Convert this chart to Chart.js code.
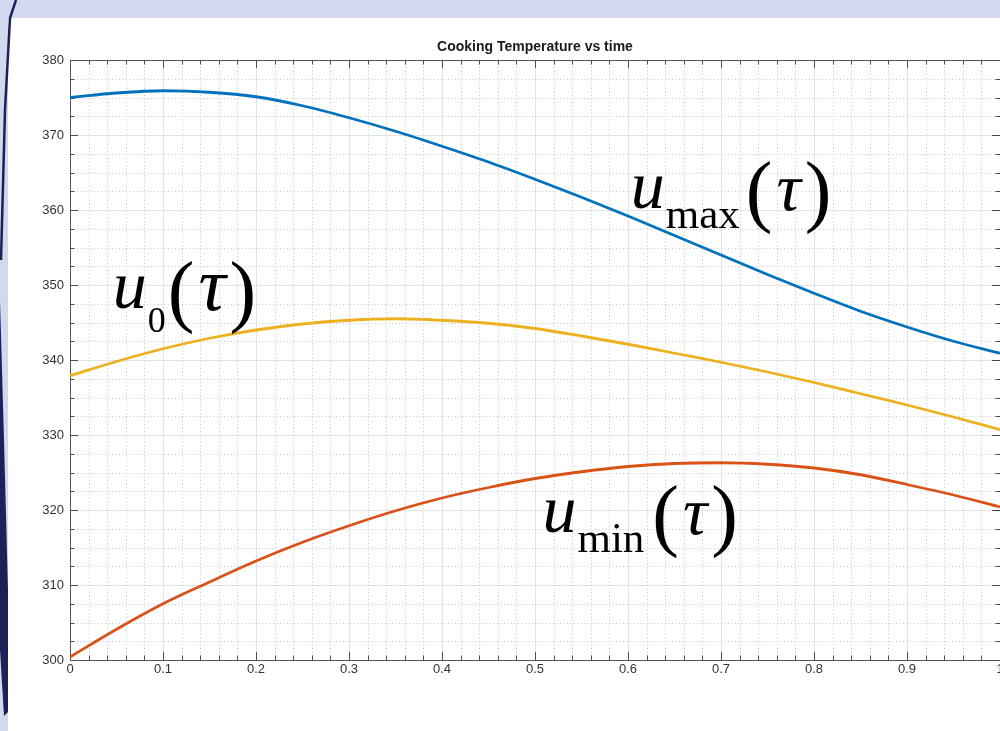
<!DOCTYPE html>
<html>
<head>
<meta charset="utf-8">
<title>Cooking Temperature vs time</title>
<script src="https://cdn.jsdelivr.net/npm/chart.js@4.4.0/dist/chart.umd.min.js"></script>
<style>
    html, body { margin: 0; padding: 0; width: 1000px; height: 731px; overflow: hidden; background: #d2d8ed; }
    #panel { position: absolute; left: 8px; top: 18px; width: 992px; height: 713px; background: #fff; }
    #wrap { position: absolute; left: 0; top: 0; width: 1040px; height: 731px; }
    #deco { position: absolute; left: 0; top: 0; }
</style>
</head>
<body>
<div id="panel"></div>
<div id="wrap"><canvas id="chartTemp"></canvas></div>
<svg id="deco" width="20" height="731">
    <path d="M16,0 L10,18 L5,110 L1,260" stroke="#1d2157" stroke-width="2.5" fill="none"/>
    <polygon points="0,300 4,440 8,590 8,712 4,716 0,650" fill="#1d2157"/>
</svg>
<script>
// time axis (tau) and the three temperature curves
const tau = [0, 0.05, 0.1, 0.15, 0.2, 0.25, 0.3, 0.35, 0.4, 0.45, 0.5,
             0.55, 0.6, 0.65, 0.7, 0.75, 0.8, 0.85, 0.9, 0.95, 1.0];
const uMax = [375.0, 375.6, 375.9, 375.7, 375.1, 373.9, 372.3, 370.5, 368.5, 366.4, 364.1,
              361.7, 359.2, 356.6, 354.0, 351.4, 348.9, 346.5, 344.4, 342.5, 340.9];
const uZero = [337.9, 339.8, 341.5, 342.9, 344.0, 344.8, 345.3, 345.5, 345.3, 344.9, 344.2,
               343.2, 342.1, 340.9, 339.7, 338.4, 337.0, 335.5, 334.0, 332.4, 330.7];
const uMin = [300.4, 304.1, 307.5, 310.4, 313.2, 315.7, 317.9, 319.9, 321.6, 323.0, 324.2,
              325.1, 325.8, 326.2, 326.3, 326.1, 325.6, 324.7, 323.4, 322.0, 320.4];

const chartTitle = 'Cooking Temperature vs time';
const xTicks = { min: 0, max: 1, step: 0.1, minor: 0.02 };
const yTicks = { min: 300, max: 380, step: 10, minor: 2.5 };

// where the big math labels sit (data coords of the "u" baseline start)
const mathLabels = [
    { sub: 'max', x: 0.603, y: 360.3, subSize: 43, subDrop: 20, gap: 6, tauSize: 68 },
    { sub: '0', x: 0.046, y: 346.9, subSize: 36, subDrop: 24, gap: 2, tauSize: 76 },
    { sub: 'min', x: 0.508, y: 317.1, subSize: 43, subDrop: 20, gap: 8, tauSize: 68 }
];

const toPoints = (vals) => tau.map((t, i) => ({ x: t, y: vals[i] }));

const SERIF = '"Liberation Serif", "Times New Roman", serif';
const SANS = '"Liberation Sans", Arial, Helvetica, sans-serif';

// minor dotted grid, box, inward ticks on all 4 sides, title over the plot
const boxPlugin = {
    id: 'boxPlugin',
    beforeDatasetsDraw(chart) {
        const { ctx, chartArea: a, scales } = chart;
        const xs = scales.x, ys = scales.y;
        ctx.save();
        ctx.lineWidth = 1;

        // minor dotted lines
        ctx.strokeStyle = '#c6c6c6';
        ctx.setLineDash([1, 2.5]);
        ctx.beginPath();
        let n = Math.round((xTicks.max - xTicks.min) / xTicks.minor);
        for (let i = 1; i < n; i++) {
            if (i % 5 === 0) continue;
            const px = Math.round(xs.getPixelForValue(xTicks.min + i * xTicks.minor)) + 0.5;
            ctx.moveTo(px, a.top);
            ctx.lineTo(px, a.bottom);
        }
        n = Math.round((yTicks.max - yTicks.min) / yTicks.minor);
        for (let i = 1; i < n; i++) {
            if (i % 4 === 0) continue;
            const py = Math.round(ys.getPixelForValue(yTicks.min + i * yTicks.minor)) + 0.5;
            ctx.moveTo(a.left, py);
            ctx.lineTo(a.right, py);
        }
        ctx.stroke();
        ctx.setLineDash([]);

        // ticks
        ctx.strokeStyle = '#4a4a4a';
        ctx.beginPath();
        n = Math.round((xTicks.max - xTicks.min) / xTicks.minor);
        for (let i = 0; i <= n; i++) {
            const len = i % 5 === 0 ? 8 : 4.5;
            const px = Math.round(xs.getPixelForValue(xTicks.min + i * xTicks.minor)) + 0.5;
            ctx.moveTo(px, a.bottom); ctx.lineTo(px, a.bottom - len);
            ctx.moveTo(px, a.top); ctx.lineTo(px, a.top + len);
        }
        n = Math.round((yTicks.max - yTicks.min) / yTicks.minor);
        for (let i = 0; i <= n; i++) {
            const len = i % 4 === 0 ? 8 : 4.5;
            const py = Math.round(ys.getPixelForValue(yTicks.min + i * yTicks.minor)) + 0.5;
            ctx.moveTo(a.left, py); ctx.lineTo(a.left + len, py);
            ctx.moveTo(a.right, py); ctx.lineTo(a.right - len, py);
        }
        ctx.stroke();

        // frame
        ctx.strokeStyle = '#555';
        ctx.strokeRect(Math.round(a.left) + 0.5, Math.round(a.top) + 0.5,
            Math.round(a.right - a.left), Math.round(a.bottom - a.top));

        // title centred on the plot box
        ctx.fillStyle = '#1a1a1a';
        ctx.font = 'bold 14px ' + SANS;
        ctx.textAlign = 'center';
        ctx.textBaseline = 'middle';
        ctx.fillText(chartTitle, (a.left + a.right) / 2, a.top - 13);
        ctx.restore();
    },
    afterDatasetsDraw(chart) {
        const { ctx, scales } = chart;
        ctx.save();
        ctx.fillStyle = '#000';
        ctx.textAlign = 'left';
        ctx.textBaseline = 'alphabetic';
        mathLabels.forEach(lab => {
            let x = scales.x.getPixelForValue(lab.x);
            const y = scales.y.getPixelForValue(lab.y);
            ctx.font = 'italic 68px ' + SERIF;
            ctx.fillText('u', x, y);
            x += ctx.measureText('u').width + 1;
            ctx.font = lab.subSize + 'px ' + SERIF;
            ctx.fillText(lab.sub, x, y + lab.subDrop);
            x += ctx.measureText(lab.sub).width + lab.gap;
            ctx.font = '80px ' + SERIF;
            ctx.fillText('(', x, y + 9);
            x += ctx.measureText('(').width + 4;
            ctx.font = 'italic ' + lab.tauSize + 'px ' + SERIF;
            ctx.fillText('\u03c4', x, y + 2);
            x += ctx.measureText('\u03c4').width + 4;
            ctx.font = '80px ' + SERIF;
            ctx.fillText(')', x, y + 9);
        });
        ctx.restore();
    }
};

const tickFont = { family: SANS, size: 13 };

new Chart(document.getElementById('chartTemp'), {
    type: 'line',
    data: {
        datasets: [
            { label: 'u_max', data: toPoints(uMax), borderColor: '#0072BD' },
            { label: 'u_0', data: toPoints(uZero), borderColor: '#EDB120' },
            { label: 'u_min', data: toPoints(uMin), borderColor: '#D95319' }
        ]
    },
    options: {
        responsive: true,
        maintainAspectRatio: false,
        animation: false,
        layout: { padding: { left: 0, right: 40, top: 60, bottom: 0 } },
        elements: {
            line: { borderWidth: 2.8, cubicInterpolationMode: 'monotone', fill: false },
            point: { radius: 0 }
        },
        plugins: {
            legend: { display: false },
            tooltip: { enabled: false },
            title: { display: false }
        },
        scales: {
            x: {
                type: 'linear',
                min: xTicks.min,
                max: xTicks.max,
                afterFit: (s) => { s.height = 71; },
                ticks: {
                    stepSize: xTicks.step, padding: 2, color: '#333', font: tickFont,
                    maxRotation: 0, autoSkip: false,
                    callback: (v) => String(Number(v.toFixed(2)))
                },
                grid: { color: '#e3e3e3', drawTicks: false },
                border: { display: false }
            },
            y: {
                min: yTicks.min,
                max: yTicks.max,
                afterFit: (s) => { s.width = 70; },
                ticks: { stepSize: yTicks.step, padding: 6, color: '#333', font: tickFont },
                grid: { color: '#e3e3e3', drawTicks: false },
                border: { display: false }
            }
        }
    },
    plugins: [boxPlugin]
});
</script>
</body>
</html>
